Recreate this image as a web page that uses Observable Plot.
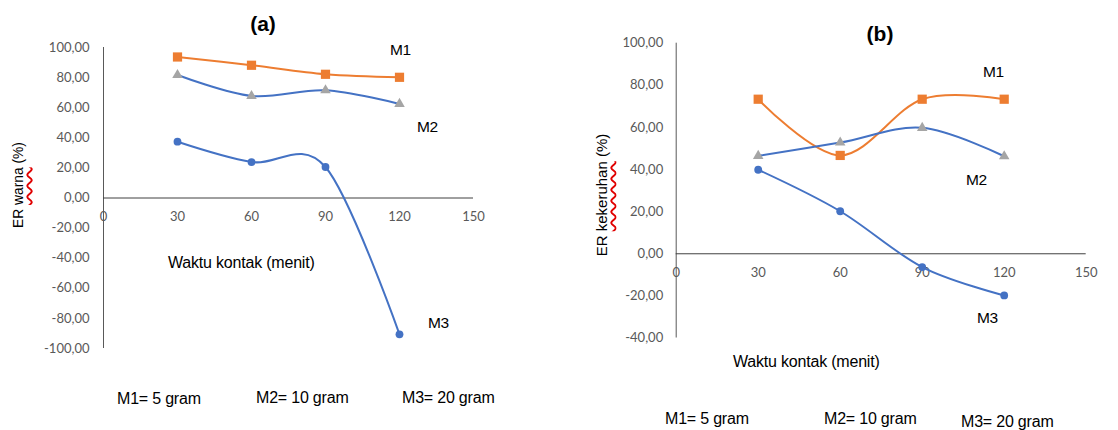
<!DOCTYPE html>
<html>
<head>
<meta charset="utf-8">
<script src="https://cdn.jsdelivr.net/npm/d3@7"></script>
<script src="https://cdn.jsdelivr.net/npm/@observablehq/plot@0.6"></script>
<style>
  html, body { margin: 0; padding: 0; background: #fff; }
  #page { position: relative; width: 1118px; height: 430px; overflow: hidden; font-family: "Liberation Sans", Arial, sans-serif; color: #000; }
  .panel { position: absolute; top: 0; }
  .lbl { position: absolute; white-space: nowrap; font-size: 15.5px; line-height: 1; transform: translateY(-50%); letter-spacing: -0.3px; }
  .leg { position: absolute; white-space: nowrap; font-size: 16px; line-height: 1; transform: translateY(-50%); letter-spacing: -0.2px; }
  .title { position: absolute; white-space: nowrap; font-size: 21px; font-weight: bold; line-height: 1; transform: translate(-50%, -50%); }
  .ylab { position: absolute; white-space: nowrap; line-height: 1; transform: translate(-50%, -50%) rotate(-90deg); }
  .squig { text-decoration: underline wavy #e00000; text-decoration-thickness: 1.5px; text-underline-offset: 3px; }
</style>
</head>
<body>
<div id="page"></div>
<script>
// ---- data ----
const times = [30, 60, 90, 120];
const seriesNames = ["M1", "M2", "M3"];
const aM1 = [93.7, 88.2, 82.2, 80.2];
const aM2 = [81.7, 67.8, 71.6, 62.5];
const aM3 = [37.4, 23.9, 20.6, -90.6];
const bM1 = [73.4, 46.7, 73.4, 73.4];
const bM2 = [46.5, 52.8, 59.8, 46.3];
const bM3 = [39.9, 20.2, -6.3, -19.8];
const xTicks = [0, 30, 60, 90, 120, 150];
const yTicksA = [-100, -80, -60, -40, -20, 0, 20, 40, 60, 80, 100];
const yTicksB = [-40, -20, 0, 20, 40, 60, 80, 100];
const legendLabels = ["M1= 5 gram", "M2= 10 gram", "M3= 20 gram"];

const lineColor = {M1: "#ED7D31", M2: "#4472C4", M3: "#4472C4"};
const markColor = {M1: "#ED7D31", M2: "#A5A5A5", M3: "#4472C4"};
const markSymbol = {M1: "square", M2: "triangle", M3: "circle"};
const markR = {M1: 5.2, M2: 3.9, M3: 3.9};

const fmt = v => d3.format(".2f")(v).replace(".", ",").replace("−", "-");

function toRows(m1, m2, m3) {
  const rows = [];
  [m1, m2, m3].forEach((arr, i) => arr.forEach((v, j) => rows.push({s: seriesNames[i], t: times[j], v})));
  return rows;
}

function makeChart(cfg) {
  const rows = toRows(...cfg.series);
  const marks = [
    Plot.ruleX([0], {stroke: "#595959", strokeWidth: 1}),
    Plot.ruleY([0], {stroke: "#404040", strokeWidth: 1}),
    Plot.axisY({ticks: cfg.yTicks, tickSize: 0, tickPadding: cfg.yPad, tickFormat: fmt, label: null,
      fill: "#595959", fontSize: 13, fontFamily: "Lato, 'Open Sans', sans-serif"}),
    Plot.text(xTicks, {x: d => d, y: 0, dy: 19, text: d => String(d), fill: "#595959",
      fontSize: 13, fontFamily: "Lato, 'Open Sans', sans-serif"})
  ];
  for (const s of seriesNames) {
    const d = rows.filter(r => r.s === s);
    marks.push(Plot.line(d, {x: "t", y: "v", stroke: lineColor[s], strokeWidth: 2, curve: "cardinal", tension: 0}));
  }
  for (const s of seriesNames) {
    const d = rows.filter(r => r.s === s);
    marks.push(Plot.dot(d, {x: "t", y: "v", symbol: markSymbol[s], r: markR[s], fill: markColor[s], stroke: "none"}));
  }
  return Plot.plot({
    width: cfg.width, height: 430,
    marginLeft: cfg.ml, marginRight: cfg.mr, marginTop: cfg.mt, marginBottom: cfg.mb,
    x: {domain: [0, 150], axis: null},
    y: {domain: cfg.yDomain, axis: null},
    style: {background: "transparent", overflow: "visible"},
    marks
  });
}

const page = document.getElementById("page");

function addPanel(left, chart) {
  const div = document.createElement("div");
  div.className = "panel";
  div.style.left = left + "px";
  div.appendChild(chart);
  page.appendChild(div);
}

function addText(cls, text, x, y, html, size) {
  const el = document.createElement("div");
  el.className = cls;
  el.style.left = x + "px";
  el.style.top = y + "px";
  if (size) el.style.fontSize = size + "px";
  if (html) el.innerHTML = html; else el.textContent = text;
  page.appendChild(el);
  return el;
}

// Panel (a)
addPanel(0, makeChart({
  series: [aM1, aM2, aM3], yDomain: [-100, 100], yTicks: yTicksA, yPad: 14,
  width: 520, ml: 103, mr: 47, mt: 47, mb: 82
}));
// Panel (b)
addPanel(580, makeChart({
  series: [bM1, bM2, bM3], yDomain: [-40, 100], yTicks: yTicksB, yPad: 13,
  width: 538, ml: 95.7, mr: 32.3, mt: 42.7, mb: 92.5
}));

// Titles
addText("title", "(a)", 263, 23);
addText("title", "(b)", 880, 33);

// Series labels
addText("lbl", "M1", 390, 50);
addText("lbl", "M2", 417, 127);
addText("lbl", "M3", 428, 323);
addText("lbl", "M1", 983, 72);
addText("lbl", "M2", 966, 180);
addText("lbl", "M3", 977, 318);

// Axis titles
addText("leg", "Waktu kontak (menit)", 168, 263);
addText("leg", "Waktu kontak (menit)", 733, 362);
addText("ylab", "", 19, 185, 'ER <span class="squig">warna</span> (%)', 13.8);
addText("ylab", "", 601, 195, 'ER <span class="squig">kekeruhan</span> (%)', 15);

// Legend notes
addText("leg", legendLabels[0], 117, 399);
addText("leg", legendLabels[1], 256, 398);
addText("leg", legendLabels[2], 402, 398);
addText("leg", legendLabels[0], 665, 419);
addText("leg", legendLabels[1], 824, 419);
addText("leg", legendLabels[2], 961, 422);
</script>
</body>
</html>
